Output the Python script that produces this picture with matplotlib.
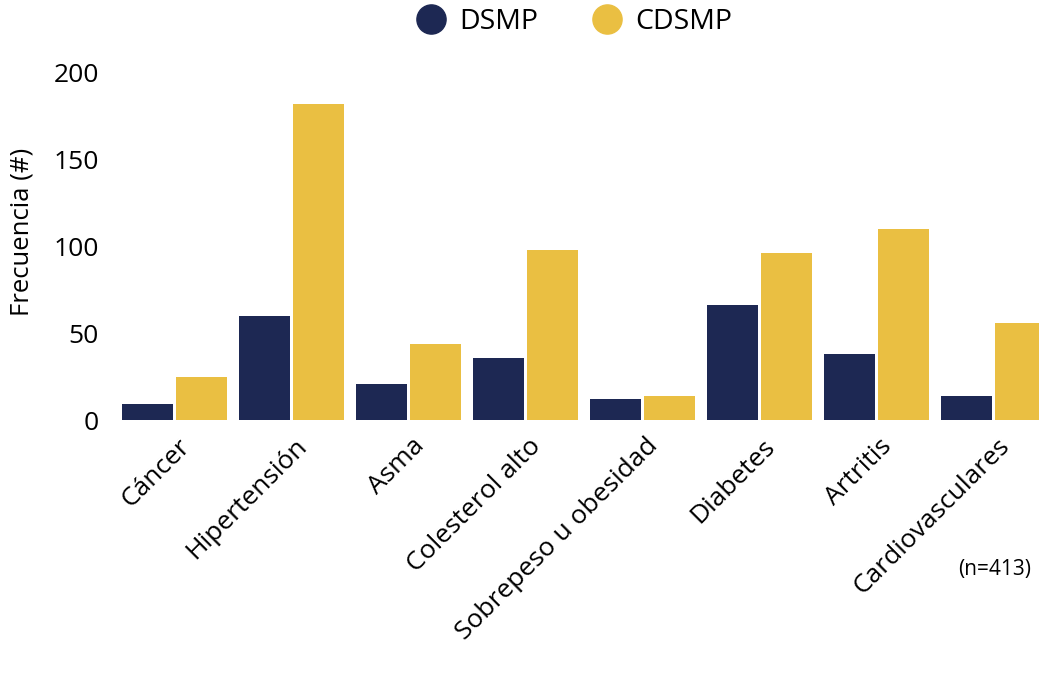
import matplotlib
matplotlib.use('Agg')
import matplotlib.pyplot as plt
import matplotlib.transforms as mtransforms
from matplotlib.lines import Line2D
import numpy as np

plt.rcParams['font.family'] = ['Open Sans', 'DejaVu Sans']

# Condiciones y frecuencias
condiciones = ['Cáncer', 'Hipertensión', 'Asma', 'Colesterol alto',
               'Sobrepeso u obesidad', 'Diabetes', 'Artritis', 'Cardiovasculares']
dsmp = [9, 60, 21, 36, 12, 66, 38, 14]
cdsmp = [25, 182, 44, 98, 14, 96, 110, 56]
yticks = [0, 50, 100, 150, 200]

navy = '#1d2853'
gold = '#eabf42'

W, H = 1039, 675
fig = plt.figure(figsize=(W / 100, H / 100), dpi=100)
ax = fig.add_axes([110 / W, 1 - 420 / H, 1 - 110 / W, 347 / H])

x = np.arange(len(condiciones))
bw = 0.436
off = 0.2308
ax.bar(x - off, dsmp, width=bw, color=navy, label='DSMP')
ax.bar(x + off, cdsmp, width=bw, color=gold, label='CDSMP')

ax.set_xlim(-0.55, 7.389)
ax.set_ylim(0, 200)
ax.set_yticks(yticks)
ax.set_xticks(x)
ax.set_xticklabels(condiciones, rotation=45, ha='right', va='center',
                   rotation_mode='anchor', fontsize=22.5)
ax.tick_params(axis='both', length=0, labelsize=19)
ax.tick_params(axis='x', pad=22)
ax.tick_params(axis='y', pad=8)
# mover un poco las etiquetas rotadas
shift = mtransforms.ScaledTranslation(12 / 100, 8 / 100, fig.dpi_scale_trans)
for lbl in ax.get_xticklabels():
    lbl.set_transform(lbl.get_transform() + shift)
for s in ax.spines.values():
    s.set_visible(False)

fig.text(22 / W, 1 - 232 / H, 'Frecuencia (#)', rotation=90, ha='center',
         va='center', fontsize=18.5)
fig.text(995 / W, 1 - 570 / H, '(n=413)', ha='center', va='center', fontsize=15)

handles = [Line2D([], [], marker='o', linestyle='', markersize=21, color=navy),
           Line2D([], [], marker='o', linestyle='', markersize=21, color=gold)]
ax.legend(handles, ['DSMP', 'CDSMP'], loc='center', bbox_to_anchor=(0.5, 1.147),
          ncol=2, frameon=False, fontsize=20.5, handletextpad=0.5,
          columnspacing=1.9, handlelength=1.0)

fig.savefig('out.png', dpi=100)
